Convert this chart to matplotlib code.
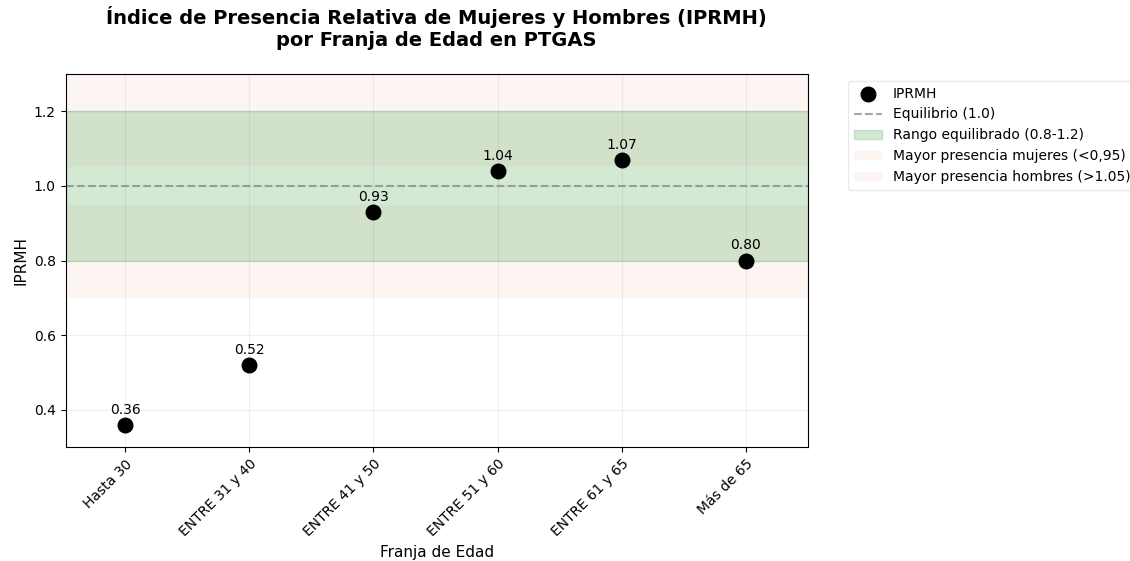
import matplotlib
matplotlib.use("Agg")
import matplotlib.pyplot as plt
import numpy as np

franjas = ['Hasta 30', 'ENTRE 31 y 40', 'ENTRE 41 y 50', 'ENTRE 51 y 60', 'ENTRE 61 y 65', 'Más de 65']
iprmh = [0.36, 0.52, 0.93, 1.04, 1.07, 0.80]

fig, ax = plt.subplots(figsize=(11.3, 5.61), dpi=100)
fig.subplots_adjust(left=0.058, right=0.715, top=0.868, bottom=0.203)

x = np.arange(len(franjas))

ax.axhspan(0.8, 1.2, color='green', alpha=0.17, label='Rango equilibrado (0.8-1.2)', zorder=1)
ax.axhspan(0.7, 0.95, color='#f08a5d', alpha=0.08, lw=0, label='Mayor presencia mujeres (<0,95)', zorder=0)
ax.axhspan(1.05, 1.3, color='#e89a90', alpha=0.09, lw=0, label='Mayor presencia hombres (>1.05)', zorder=0)
ax.axhline(1.0, color='gray', linestyle='--', alpha=0.7, label='Equilibrio (1.0)', zorder=2)

ax.scatter(x, iprmh, s=110, color='black', zorder=5, label='IPRMH')
for xi, v in zip(x, iprmh):
    ax.annotate(f'{v:.2f}', (xi, v), textcoords='offset points', xytext=(0, 8),
                ha='center', fontsize=10)

ax.set_xlim(-0.48, 5.5)
ax.set_ylim(0.3, 1.3)
ax.set_yticks([0.4, 0.6, 0.8, 1.0, 1.2])
ax.set_xticks(x)
ax.set_xticklabels(franjas, rotation=45, ha='right', rotation_mode='anchor')
ax.tick_params(labelsize=10)
ax.grid(True, alpha=0.2)
ax.set_axisbelow(True)

ax.set_xlabel('Franja de Edad', fontsize=11)
ax.set_ylabel('IPRMH', fontsize=11)
ax.set_title('Índice de Presencia Relativa de Mujeres y Hombres (IPRMH)\npor Franja de Edad en PTGAS',
             fontsize=14, fontweight='bold', pad=20)

h, l = ax.get_legend_handles_labels()
order = [4, 3, 0, 1, 2]
ax.legend([h[i] for i in order], [l[i] for i in order], bbox_to_anchor=(1.045, 1.0),
          loc='upper left', fontsize=10, framealpha=0.6, edgecolor='#dddddd')

plt.savefig('out.png', dpi=100)
